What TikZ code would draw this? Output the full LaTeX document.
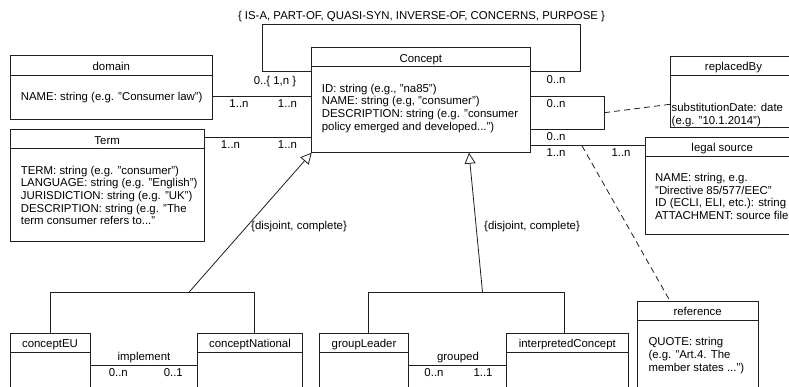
\documentclass[tikz,border=0pt]{standalone}
\usepackage{fontspec}
\setmainfont{Liberation Sans}
\usetikzlibrary{calc,arrows.meta}
\definecolor{ink}{gray}{0.12}
\tikzset{
  cls/.style={draw=ink, line width=0.8pt, anchor=north west, inner sep=0pt, outer sep=0pt},
  ttl/.style={anchor=base, inner sep=0pt},
  bdy/.style={anchor=north west, align=left, inner sep=0pt},
  lbl/.style={anchor=base, inner sep=0pt},
  conn/.style={draw=ink, line width=0.8pt},
  dsh/.style={draw=ink, line width=0.8pt, dash pattern=on 6pt off 4pt},
  gen/.style={draw=ink, line width=0.8pt, -{Triangle[open, length=11pt, width=11pt]}},
}
\begin{document}
\begin{tikzpicture}[x=1pt, y=-1pt, font=\fontsize{11.4}{12.7}\selectfont]
\useasboundingbox (0,0) rectangle (789,387);
\clip (0,0) rectangle (789,387);

% ---------- class boxes ----------
\node[cls, minimum width=218.3pt, minimum height=105pt] (concept) at (311.7,47.7) {};
\node[cls, minimum width=202.7pt, minimum height=63.6pt] (domain) at (10,55.7) {};
\node[cls, minimum width=194.3pt, minimum height=112pt] (term) at (10,129.7) {};
\node[cls, minimum width=127pt, minimum height=71.7pt] (replaced) at (670,56) {};
\node[cls, minimum width=153pt, minimum height=97pt] (legal) at (645.7,137) {};
\node[cls, minimum width=121.3pt, minimum height=100pt] (reference) at (637,301) {};
\node[cls, minimum width=80pt, minimum height=70pt] (ceu) at (10,333.3) {};
\node[cls, minimum width=105pt, minimum height=70pt] (cnat) at (197.5,333.3) {};
\node[cls, minimum width=89.5pt, minimum height=70pt] (gl) at (319.3,333.3) {};
\node[cls, minimum width=121.3pt, minimum height=70pt] (ic) at (506.7,333.3) {};

% header separators
\foreach \b/\h in {concept/19, domain/19.3, term/19, replaced/19, legal/19.7, reference/19, ceu/19.2, cnat/19.2, gl/19.2, ic/19.2}
  \draw[conn] ($(\b.north west)+(0,\h)$) -- ($(\b.north east)+(0,\h)$);

% titles
\node[ttl] (conceptT) at ($(concept.north)+(0,14.6)$) {Concept};
\node[ttl] (domainT) at ($(domain.north)+(0,14.4)$) {domain};
\node[ttl] (termT) at ($(term.north)+(0,14.4)$) {Term};
\node[ttl] (replacedT) at ($(replaced.north)+(0,14.4)$) {replacedBy};
\node[ttl] (legalT) at ($(legal.north)+(0,14.6)$) {legal source};
\node[ttl] (referenceT) at ($(reference.north)+(0,14.4)$) {reference};
\node[ttl] (ceuT) at ($(ceu.north)+(0,14.2)$) {conceptEU};
\node[ttl] (cnatT) at ($(cnat.north)+(0,14.2)$) {conceptNational};
\node[ttl] (glT) at ($(gl.north)+(0,14.2)$) {groupLeader};
\node[ttl] (icT) at ($(ic.north)+(0,14.2)$) {interpretedConcept};

% bodies
\node[bdy] (conceptB) at ($(concept.north west)+(10,35.4)$) {\strut ID: string (e.g., "na85")\\NAME: string (e.g, "consumer")\\DESCRIPTION: string (e.g. "consumer\\policy emerged and developed...")};
\node[bdy] (domainB) at ($(domain.north west)+(10.7,36.1)$) {\strut NAME: string (e.g. "Consumer law")};
\node[bdy] (termB) at ($(term.north west)+(10.7,35.4)$) {\strut TERM: string (e.g. "consumer")\\LANGUAGE: string (e.g. "English")\\JURISDICTION: string (e.g. "UK")\\DESCRIPTION: string (e.g. "The\\term consumer refers to..."};
\node[bdy] (replacedB) at ($(replaced.north west)+(1.5,46.6)$) {\strut substitutionDate: date\\(e.g. "10.1.2014")};
\node[bdy] (legalB) at ($(legal.north west)+(9.3,35.4)$) {\strut NAME: string, e.g.\\"Directive 85/577/EEC"\\ID (ECLI, ELI, etc.): string\\ATTACHMENT: source file};
\node[bdy] (referenceB) at ($(reference.north west)+(11.3,35.8)$) {\strut QUOTE: string\\(e.g. "Art.4. The\\member states ...")};

% ---------- self association ----------
\draw[conn] ($(concept.north west)+(0,24)$) -- ++(-49,0) |- ($(concept.north east)+(50.7,-23.7)$) |- ($(concept.north east)+(0,24)$);
\node[lbl] (relset) at (421.5,19.8) {\{ IS-A, PART-OF, QUASI-SYN, INVERSE-OF, CONCERNS, PURPOSE \}};
\node[lbl] (selfL) at (275,84.6) {0..\{ 1,n \}};
\node[lbl] (selfR) at (556,84) {0..n};

% ---------- domain -- Concept ----------
\draw[conn] ($(domain.north east)+(0,41)$) -- ($(concept.north west)+(0,49)$);
\node[lbl] (dm1) at (239,108) {1..n};
\node[lbl] (dm2) at (287.5,108) {1..n};

% ---------- Term -- Concept ----------
\draw[conn] ($(term.north east)+(0,8)$) -- ($(concept.north west)+(0,90)$);
\node[lbl] (tm1) at (230.5,149) {1..n};
\node[lbl] (tm2) at (287.5,149) {1..n};

% ---------- replacedBy (association class) ----------
\draw[conn] ($(concept.north east)+(0,49)$) -- ++(74.3,0) |- ($(concept.north east)+(0,81.3)$);
\coordinate (rbm) at ($(concept.north east)+(74.3,65)$);
\draw[dsh] (rbm) -- ($(replaced.north west)+(0,48.3)$);
\node[lbl] (rb1) at (556,108) {0..n};
\node[lbl] (rb2) at (556,140.5) {0..n};

% ---------- legal source ----------
\draw[conn] ($(concept.north east)+(0,98)$) -- coordinate[pos=0.449] (lsm) ($(legal.north west)+(0,8.7)$);
\node[lbl] (ls1) at (556,157) {1..n};
\node[lbl] (ls2) at (621,157) {1..n};
\draw[dsh] (lsm) -- ($(reference.north west)+(33,0)$);

% ---------- generalisations ----------
\coordinate (j1) at (189,292.2);
\draw[conn] ($(ceu.north)+(0.7,0)$) |- (j1) -| ($(cnat.north)+(4.5,0)$);
\draw[gen] (j1) -- (concept.south west);
\node[anchor=base west, inner sep=0pt] (dc1) at (251,229.5) {\{disjoint, complete\}};

\coordinate (j2) at (482.5,292.2);
\draw[conn] ($(gl.north)+(4.7,0)$) |- (j2) -| ($(ic.north)+(-3,0)$);
\draw[gen] (j2) -- ($(concept.south west)+(157.3,0)$);
\node[anchor=base west, inner sep=0pt] (dc2) at (484,229.5) {\{disjoint, complete\}};

% ---------- implement / grouped ----------
\draw[conn] ($(ceu.north east)+(0,32.2)$) -- ($(cnat.north west)+(0,32.2)$);
\node[lbl] (impl) at (144,360.8) {implement};
\node[lbl] (im1) at (118.3,376.5) {0..n};
\node[lbl] (im2) at (173.3,376.5) {0..1};

\draw[conn] ($(gl.north east)+(0,32.2)$) -- ($(ic.north west)+(0,32.2)$);
\node[lbl] (grp) at (458,360.8) {grouped};
\node[lbl] (gr1) at (434,376.5) {0..n};
\node[lbl] (gr2) at (483,376.5) {1..1};
\end{tikzpicture}
\end{document}
